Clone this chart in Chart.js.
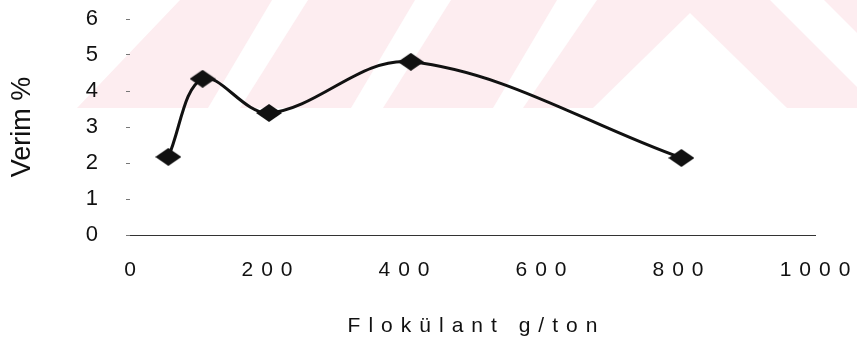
<!DOCTYPE html>
<html><head><meta charset="utf-8">
<script src="https://cdn.jsdelivr.net/npm/chart.js@4"></script>
<style>html,body{margin:0;padding:0;background:#fff}#wrap{width:857px;height:343px;position:relative}</style>
</head><body><div id="wrap"><canvas id="c"></canvas></div>
<script>
// ---- data ----
const doseValues = [56, 106, 203, 410, 805];        // Flokülant g/ton
const yieldValues = [2.17, 4.34, 3.39, 4.81, 2.14]; // Verim %
const xTickValues = [0, 200, 400, 600, 800, 1000];
const yTickValues = [0, 1, 2, 3, 4, 5, 6];
const xAxisTitle = 'Flokülant g/ton';
const yAxisTitle = 'Verim %';

const FONT = 'Arial, "Liberation Sans", sans-serif';
const INK = '#111';

function diamond(w, h, color) {
  const c = document.createElement('canvas');
  c.width = w; c.height = h;
  const g = c.getContext('2d');
  g.fillStyle = color;
  g.beginPath();
  g.moveTo(w / 2, 0); g.lineTo(w, h / 2); g.lineTo(w / 2, h); g.lineTo(0, h / 2);
  g.closePath(); g.fill();
  return c;
}

// faint background watermark of the scanned page (decoration only)
const watermark = {
  id: 'watermark',
  beforeDraw(chart) {
    const ctx = chart.ctx;
    const poly = pts => { ctx.beginPath(); pts.forEach((p, i) => i ? ctx.lineTo(p[0], p[1]) : ctx.moveTo(p[0], p[1])); ctx.closePath(); ctx.fill(); };
    ctx.save();
    ctx.fillStyle = 'rgb(253,237,240)';
    poly([[77,108],[180,0],[857,0],[857,108]]);
    ctx.fillStyle = '#ffffff';
    poly([[208,108],[240,108],[308,0],[272,0]]);
    poly([[351,108],[383,108],[451,0],[415,0]]);
    poly([[493,108],[523,108],[597,0],[557,0]]);
    poly([[593,108],[690,13],[787,108]]);
    poly([[770,0],[824,0],[857,33],[857,87]]);
    ctx.restore();
    // make sure the x axis line position is known before its layer is drawn
    const xs = chart.scales.x;
    if (xs && typeof xs._computeGridLineItems === 'function') {
      xs._gridLineItems = xs._computeGridLineItems(chart.chartArea);
    }
  }
};

// spaced lettering of the x axis texts (drawn after the datasets)
const spacing = {
  id: 'spacing',
  afterDatasetsDraw(chart) { chart.ctx.letterSpacing = '8px'; chart.ctx.translate(4, 0); },
  afterDraw(chart) { chart.ctx.letterSpacing = '0px'; chart.ctx.translate(-4, 0); }
};

new Chart(document.getElementById('c'), {
  type: 'line',
  data: {
    datasets: [{
      data: doseValues.map((x, i) => ({ x: x, y: yieldValues[i] })),
      borderColor: INK,
      borderWidth: 3,
      tension: 0.35,
      pointStyle: diamond(26, 18, INK),
      pointRadius: 9,
      fill: false
    }]
  },
  options: {
    responsive: true,
    maintainAspectRatio: false,
    animation: false,
    events: [],
    layout: { padding: { top: 19, right: 42, left: 0, bottom: 0 } },
    plugins: { legend: { display: false }, tooltip: { enabled: false } },
    scales: {
      x: {
        type: 'linear',
        min: 0, max: 1000,
        afterBuildTicks: s => { s.ticks = xTickValues.map(v => ({ value: v })); },
        afterFit: s => { s.height = 108; },
        grid: { display: false, z: 1 },
        border: { display: true, color: '#333', width: 1, z: 0 },
        ticks: { z: 1, autoSkip: false, maxRotation: 0, padding: 15, color: INK, font: { family: FONT, size: 21 },
                 callback: v => String(v) },
        title: { display: true, text: xAxisTitle, color: INK, font: { family: FONT, size: 21 }, padding: { top: 0, bottom: 4 } }
      },
      y: {
        min: 0, max: 6,
        afterBuildTicks: s => { s.ticks = yTickValues.map(v => ({ value: v })); },
        afterFit: s => { s.width = 130; s.paddingTop = 0; s.paddingBottom = 0; },
        grid: { display: true, drawOnChartArea: false, drawTicks: true, tickLength: 4, color: '#777', lineWidth: 1 },
        border: { display: false },
        ticks: { padding: 28, color: INK, font: { family: FONT, size: 22 }, callback: v => String(v) },
        title: { display: true, text: yAxisTitle, color: INK, font: { family: FONT, size: 27 }, padding: { top: 6, bottom: 0 } }
      }
    }
  },
  plugins: [watermark, spacing]
});
</script>
</body></html>
